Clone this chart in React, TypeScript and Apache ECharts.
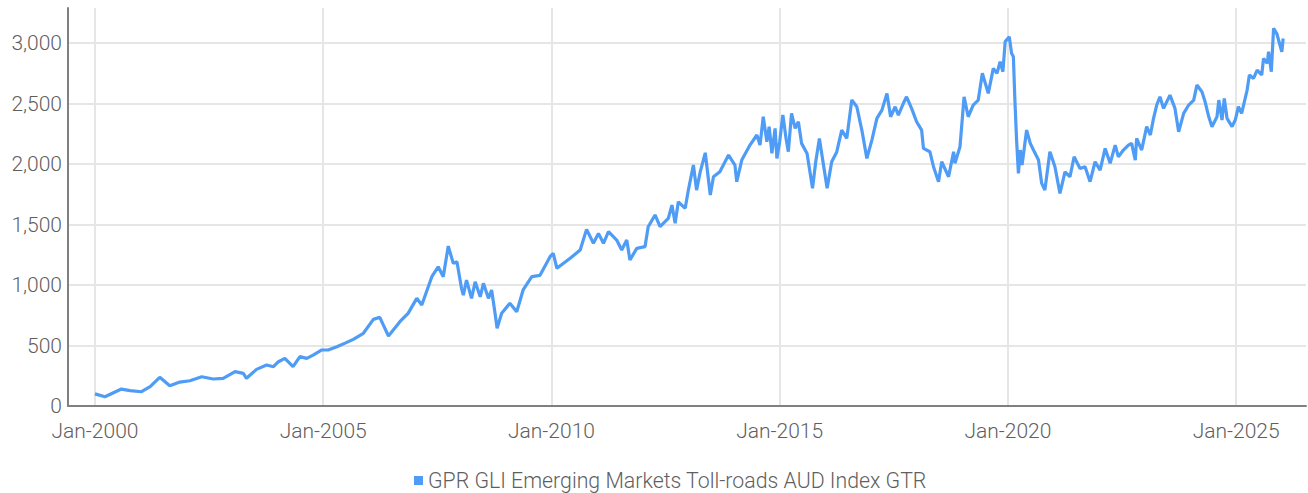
import React, { useEffect, useRef } from "react";
import * as echarts from "echarts";

const SERIES_NAME = "GPR GLI Emerging Markets Toll-roads AUD Index GTR";

// [decimal year, index value]
const period2000to2004: [number, number][] = [
  [2000.0, 100], [2000.22, 77], [2000.58, 140], [2000.77, 127], [2001.02, 118],
  [2001.21, 160], [2001.42, 237], [2001.64, 168], [2001.86, 198], [2002.08, 209],
  [2002.34, 242], [2002.59, 223], [2002.81, 229], [2003.07, 284], [2003.25, 270],
  [2003.32, 229], [2003.54, 303], [2003.76, 339], [2003.91, 325], [2004.02, 366],
  [2004.16, 394], [2004.34, 325], [2004.49, 408], [2004.64, 394], [2004.78, 421],
  [2004.97, 463],
];

const period2005to2009: [number, number][] = [
  [2005.11, 463], [2005.3, 490], [2005.48, 520], [2005.66, 551], [2005.88, 601],
  [2006.1, 716], [2006.24, 733], [2006.43, 579], [2006.68, 697], [2006.86, 766],
  [2007.05, 890], [2007.16, 835], [2007.38, 1069], [2007.52, 1151], [2007.63, 1069],
  [2007.74, 1322], [2007.85, 1179], [2007.93, 1193], [2008.03, 973], [2008.07, 917],
  [2008.14, 1041], [2008.25, 890], [2008.33, 1027], [2008.44, 903], [2008.51, 1014],
  [2008.62, 890], [2008.69, 959], [2008.76, 779], [2008.81, 642], [2008.91, 766],
  [2009.09, 849], [2009.24, 779], [2009.38, 959], [2009.57, 1069], [2009.75, 1080],
  [2009.97, 1234],
];

const period2010to2014: [number, number][] = [
  [2010.04, 1262], [2010.12, 1138], [2010.41, 1221], [2010.63, 1289], [2010.77, 1460],
  [2010.92, 1345], [2011.03, 1427], [2011.14, 1345], [2011.25, 1441], [2011.43, 1372],
  [2011.54, 1289], [2011.65, 1372], [2011.72, 1207], [2011.87, 1303], [2012.05, 1317],
  [2012.12, 1482], [2012.27, 1579], [2012.38, 1482], [2012.56, 1551], [2012.64, 1661],
  [2012.71, 1510], [2012.78, 1688], [2012.93, 1634], [2013.0, 1785], [2013.11, 1992],
  [2013.18, 1785], [2013.26, 1936], [2013.37, 2093], [2013.48, 1744], [2013.55, 1895],
  [2013.69, 1936], [2013.88, 2074], [2014.02, 1992], [2014.06, 1854], [2014.17, 2033],
  [2014.35, 2157], [2014.5, 2240], [2014.57, 2157], [2014.64, 2391], [2014.72, 2185],
  [2014.77, 2309], [2014.83, 2088], [2014.9, 2295], [2014.94, 2047],
];

const period2015to2019: [number, number][] = [
  [2015.0, 2185], [2015.07, 2405], [2015.14, 2212], [2015.19, 2102], [2015.26, 2419],
  [2015.34, 2295], [2015.41, 2350], [2015.48, 2171], [2015.6, 2088], [2015.72, 1800],
  [2015.79, 2019], [2015.87, 2212], [2015.96, 1992], [2016.04, 1800], [2016.14, 2019],
  [2016.25, 2100], [2016.36, 2281], [2016.47, 2212], [2016.58, 2529], [2016.69, 2474],
  [2016.8, 2281], [2016.91, 2047], [2017.02, 2198], [2017.13, 2378], [2017.24, 2446],
  [2017.35, 2584], [2017.43, 2391], [2017.53, 2474], [2017.6, 2405], [2017.71, 2502],
  [2017.78, 2556], [2017.89, 2460], [2018.0, 2350], [2018.11, 2281], [2018.15, 2129],
  [2018.29, 2102], [2018.37, 1978], [2018.48, 1854], [2018.55, 2019], [2018.7, 1895],
  [2018.81, 2102], [2018.84, 2006], [2018.95, 2143], [2019.04, 2556], [2019.13, 2391],
  [2019.24, 2488], [2019.35, 2529], [2019.44, 2750], [2019.57, 2584], [2019.68, 2791],
  [2019.76, 2750], [2019.83, 2846], [2019.89, 2763], [2019.94, 3012],
];

const period2020to2026: [number, number][] = [
  [2020.03, 3052], [2020.08, 2915], [2020.12, 2887], [2020.15, 2556], [2020.19, 2198],
  [2020.23, 1923], [2020.27, 2116], [2020.31, 1992], [2020.41, 2281], [2020.49, 2171],
  [2020.56, 2116], [2020.67, 2033], [2020.74, 1840], [2020.81, 1785], [2020.92, 2102],
  [2021.03, 1978], [2021.14, 1758], [2021.25, 1936], [2021.36, 1895], [2021.45, 2060],
  [2021.58, 1964], [2021.69, 1978], [2021.8, 1854], [2021.91, 2019], [2022.02, 1950],
  [2022.13, 2129], [2022.24, 2006], [2022.35, 2157], [2022.42, 2060], [2022.53, 2116],
  [2022.64, 2157], [2022.71, 2171], [2022.79, 2033], [2022.82, 2212], [2022.93, 2116],
  [2023.04, 2309], [2023.12, 2240], [2023.19, 2378], [2023.26, 2488], [2023.33, 2556],
  [2023.41, 2460], [2023.55, 2570], [2023.66, 2460], [2023.74, 2267], [2023.85, 2419],
  [2023.96, 2488], [2024.07, 2529], [2024.14, 2653], [2024.25, 2598], [2024.32, 2515],
  [2024.4, 2391], [2024.47, 2309], [2024.58, 2391], [2024.62, 2529], [2024.69, 2364],
  [2024.74, 2543], [2024.8, 2378], [2024.91, 2309], [2024.98, 2364], [2025.05, 2474],
  [2025.12, 2419], [2025.24, 2612], [2025.29, 2736], [2025.38, 2708], [2025.46, 2777],
  [2025.56, 2736], [2025.6, 2873], [2025.68, 2832], [2025.71, 2928], [2025.77, 2763],
  [2025.82, 3121], [2025.89, 3079], [2026.0, 2928], [2026.03, 3038],
];

const xTickYears: number[] = [2000, 2005, 2010, 2015, 2020, 2025];
const yTicks: number[] = [0, 500, 1000, 1500, 2000, 2500, 3000];

const FONT = "Roboto, 'Liberation Sans', sans-serif";
const TEXT_COLOR = "#5f5f5f";
const LINE_COLOR = "#4e9cf6";

export default function App() {
  const ref = useRef<HTMLDivElement | null>(null);

  useEffect(() => {
    document.body.style.margin = "0";
    if (!ref.current) return;
    const chart = echarts.init(ref.current, null, { renderer: "svg" });
    const data = [
      ...period2000to2004,
      ...period2005to2009,
      ...period2010to2014,
      ...period2015to2019,
      ...period2020to2026,
    ];
    chart.setOption({
      animation: false,
      textStyle: { fontFamily: FONT },
      grid: { left: 68, right: 2, top: 8, bottom: 87, containLabel: false },
      xAxis: {
        type: "value",
        min: 1999.41,
        max: 2026.53,
        offset: 3,
        axisLine: { show: true, lineStyle: { color: "#808080", width: 2 } },
        axisTick: { show: false, customValues: xTickYears },
        axisLabel: {
          customValues: xTickYears,
          formatter: (v: number) => "Jan-" + Math.round(v),
          color: TEXT_COLOR,
          fontSize: 21,
          fontWeight: 300,
          fontFamily: FONT,
          margin: 11,
        },
        splitLine: { show: true, lineStyle: { color: "#e6e6e6", width: 2 } },
      },
      yAxis: {
        type: "value",
        min: 0,
        max: 3290,
        interval: 500,
        axisLine: { show: true, lineStyle: { color: "#808080", width: 2 } },
        axisTick: { show: false },
        axisLabel: {
          color: TEXT_COLOR,
          fontSize: 21,
          fontWeight: 300,
          fontFamily: FONT,
          margin: 6,
          showMaxLabel: false,
          formatter: (v: number) => (yTicks.includes(v) ? v.toLocaleString("en-US") : ""),
        },
        splitLine: { show: true, showMaxLine: false, lineStyle: { color: "#e6e6e6", width: 2 } },
      },
      legend: {
        show: true,
        left: 409,
        top: 465,
        icon: "rect",
        itemWidth: 9,
        itemHeight: 9,
        textStyle: { color: TEXT_COLOR, fontSize: 21.3, fontWeight: 300, fontFamily: FONT },
        data: [SERIES_NAME],
      },
      series: [
        {
          name: SERIES_NAME,
          type: "line",
          data,
          showSymbol: false,
          symbol: "none",
          lineStyle: { color: LINE_COLOR, width: 3.2 },
          itemStyle: { color: LINE_COLOR },
        },
      ],
    });
    return () => chart.dispose();
  }, []);

  return <div ref={ref} style={{ width: 1308, height: 493 }} />;
}
